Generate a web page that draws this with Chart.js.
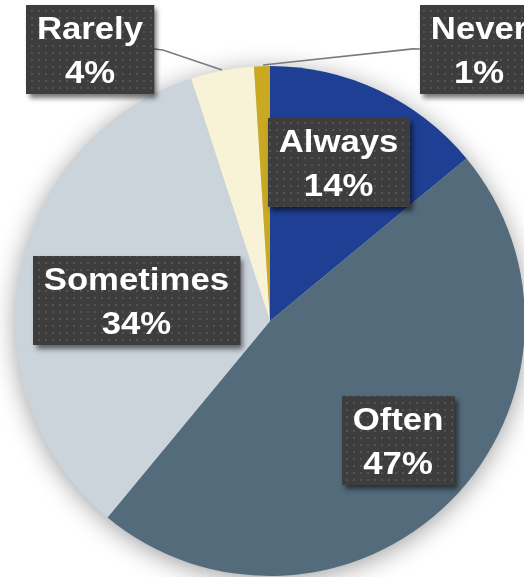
<!DOCTYPE html>
<html>
<head>
<meta charset="utf-8">
<script src="https://cdn.jsdelivr.net/npm/chart.js@4/dist/chart.umd.min.js"></script>
<style>
html,body{margin:0;padding:0;background:#fff;overflow:hidden;}
#wrap{width:540px;height:577px;}
</style>
</head>
<body>
<div id="wrap"><canvas id="c" width="540" height="577"></canvas></div>
<script>
// ---- data ----
const categories = ["Always", "Often", "Sometimes", "Rarely", "Never"];
const values = [14, 47, 34, 4, 1];
const percentLabels = ["14%", "47%", "34%", "4%", "1%"];
const sliceColors = ["#1F3F94", "#546B7C", "#CBD3DB", "#F8F2D6", "#C9A921"];

// ---- label layout (box centres in units of pie radius, relative to pie centre) ----
const labelLayout = [
  {dx: 0.269, dy: -0.622},
  {dx: 0.502, dy: 0.467},
  {dx: -0.524, dy: -0.082},
  {dx: -0.706, dy: -1.063, leader: [[-0.420, -1.063], [-0.188, -0.984]]},
  {dx: 0.820, dy: -1.063, leader: [[0.561, -1.067], [-0.027, -1.004]]}
];

// dotted pattern for label boxes
function makePattern(ctx){
  const p = document.createElement('canvas');
  p.width = 7; p.height = 7;
  const g = p.getContext('2d');
  g.fillStyle = '#3d3d3d'; g.fillRect(0,0,7,7);
  g.fillStyle = '#545454'; g.fillRect(3,3,2,2);
  return ctx.createPattern(p, 'repeat');
}

const pieShadow = {
  id: 'pieShadow',
  beforeDatasetsDraw(chart){
    const arc = chart.getDatasetMeta(0).data[0];
    if(!arc) return;
    const ctx = chart.ctx;
    ctx.save();
    ctx.shadowColor = 'rgba(0,0,0,0.4)';
    ctx.shadowBlur = 26;
    ctx.shadowOffsetY = 4;
    ctx.fillStyle = '#ccc';
    ctx.beginPath();
    ctx.arc(arc.x, arc.y, arc.outerRadius - 1, 0, Math.PI*2);
    ctx.fill();
    ctx.restore();
  }
};

const boxLabels = {
  id: 'boxLabels',
  afterDatasetsDraw(chart){
    const meta = chart.getDatasetMeta(0);
    const a0 = meta.data[0];
    const cx = a0.x, cy = a0.y, r = a0.outerRadius;
    const ctx = chart.ctx;
    const pattern = makePattern(ctx);
    const font = "bold 31px 'Liberation Sans', Arial, sans-serif";
    const sx = 1.12;
    ctx.save();
    ctx.font = font;
    // leader lines
    labelLayout.forEach((L, i) => {
      if(!L.leader) return;
      const bx = cx + L.dx*r, by = cy + L.dy*r;
      const t1 = categories[i], t2 = percentLabels[i];
      const w = Math.max(ctx.measureText(t1).width, ctx.measureText(t2).width)*sx + 22;
      const side = L.dx < 0 ? 1 : -1;
      ctx.strokeStyle = '#7a7a7a';
      ctx.lineWidth = 1.6;
      ctx.beginPath();
      ctx.moveTo(bx + side*w/2, by - 1);
      L.leader.forEach(p => ctx.lineTo(cx + p[0]*r, cy + p[1]*r));
      ctx.stroke();
    });
    labelLayout.forEach((L, i) => {
      const bx = cx + L.dx*r, by = cy + L.dy*r;
      const t1 = categories[i], t2 = percentLabels[i];
      const w = Math.max(ctx.measureText(t1).width, ctx.measureText(t2).width)*sx + 22;
      const h = 89;
      const x0 = Math.round(bx - w/2), y0 = Math.round(by - h/2);
      ctx.save();
      ctx.shadowColor = 'rgba(0,0,0,0.55)';
      ctx.shadowBlur = 5;
      ctx.shadowOffsetX = 3;
      ctx.shadowOffsetY = 4;
      ctx.fillStyle = '#3d3d3d';
      ctx.fillRect(x0, y0, w, h);
      ctx.restore();
      ctx.fillStyle = pattern;
      ctx.fillRect(x0, y0, w, h);
      ctx.fillStyle = '#ffffff';
      ctx.textAlign = 'center';
      ctx.textBaseline = 'alphabetic';
      [[t1, 34], [t2, 78]].forEach(([t, off]) => {
        ctx.save();
        ctx.translate(bx, y0 + off);
        ctx.scale(sx, 1);
        ctx.fillText(t, 0, 0);
        ctx.restore();
      });
    });
    ctx.restore();
  }
};

new Chart(document.getElementById('c'), {
  type: 'pie',
  data: {
    labels: categories,
    datasets: [{
      data: values,
      backgroundColor: sliceColors,
      borderWidth: 0,
      hoverOffset: 0
    }]
  },
  options: {
    responsive: false,
    animation: false,
    devicePixelRatio: 1,
    events: [],
    rotation: 0,
    layout: {padding: {left: 15, right: 15, top: 65, bottom: 0}},
    plugins: {legend: {display: false}, tooltip: {enabled: false}, title: {display: false}}
  },
  plugins: [pieShadow, boxLabels]
});
</script>
</body>
</html>
